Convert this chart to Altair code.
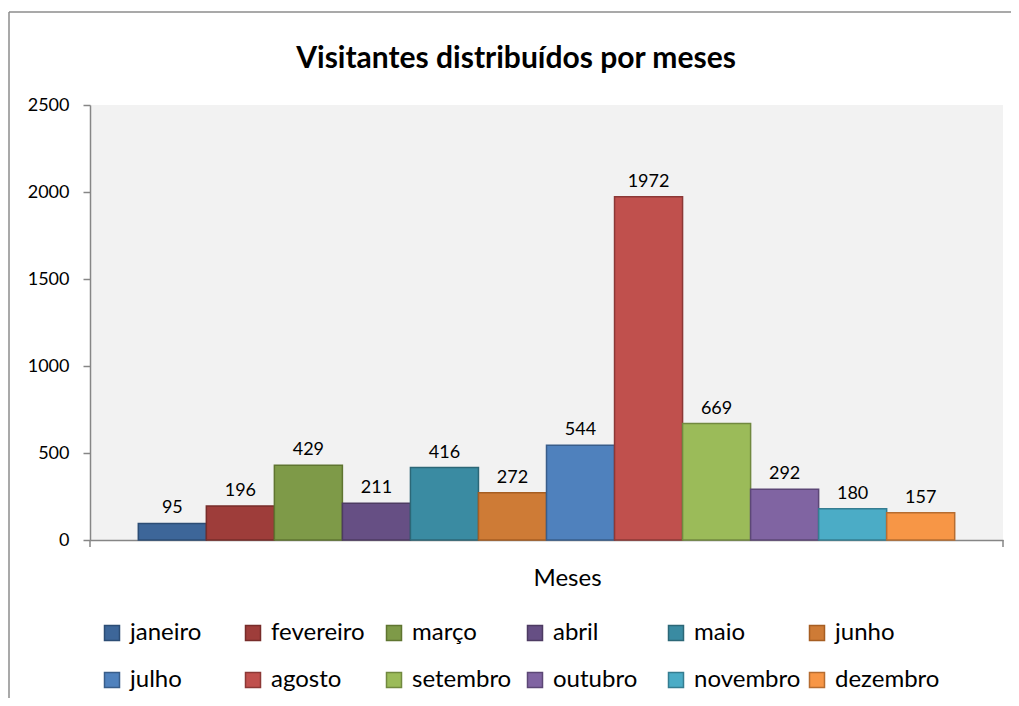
import altair as alt
import pandas as pd

months = ["janeiro", "fevereiro", "março", "abril", "maio", "junho",
          "julho", "agosto", "setembro", "outubro", "novembro", "dezembro"]
visitors = [95, 196, 429, 211, 416, 272, 544, 1972, 669, 292, 180, 157]
y_ticks = [0, 500, 1000, 1500, 2000, 2500]
title_text = "Visitantes distribuídos por meses"

fill_colors = ["#3D6699", "#9E3D3A", "#7E9A48", "#664F84", "#3A8BA2", "#CE7B36",
               "#4F81BD", "#C0504D", "#9BBB59", "#8064A2", "#4BACC6", "#F79646"]
stroke_colors = ["#2C4D75", "#772C2A", "#5F7530", "#4D3B62", "#2C6777", "#A65E22",
                 "#385D8A", "#8C3836", "#71893F", "#5C4776", "#357D91", "#B66D31"]

FONT = "Lato"
W, H = 913, 435

df = pd.DataFrame({"mes": months, "visitantes": visitors})

x_enc = alt.X(
    "mes:N", sort=months,
    scale=alt.Scale(paddingInner=0, paddingOuter=0.71),
    axis=alt.Axis(labels=False, ticks=False, domain=True, domainColor="#868686",
                  domainWidth=1.5, title="Meses", titleFont=FONT, titleFontSize=24,
                  titleFontWeight="normal", titleColor="black",
                  titleX=477, titleY=45, titleBaseline="alphabetic", titleAlign="center"),
)
y_enc = alt.Y(
    "visitantes:Q",
    scale=alt.Scale(domain=[0, 2500], nice=False),
    axis=alt.Axis(values=y_ticks, format="d", title=None, grid=False, domainColor="#868686",
                  domainWidth=1.5, tickColor="#868686", tickSize=7, tickWidth=1.5,
                  labelFont=FONT, labelFontSize=18, labelColor="black", labelPadding=14),
)

legend = alt.Legend(title=None, orient="none", legendX=10, legendY=516, columns=6,
                    direction="horizontal",
                    gridAlign="all", columnPadding=4, rowPadding=23, padding=0,
                    symbolType="square", symbolSize=225, symbolStrokeWidth=1.5,
                    labelFont=FONT, labelFontSize=24, labelColor="black", labelOffset=6,
                    labelLimit=0, symbolOpacity=1)

base = alt.Chart(df)

bars = base.mark_bar(strokeWidth=1.5, opacity=1).encode(
    x=x_enc,
    y=y_enc,
    color=alt.Color("mes:N", sort=months,
                    scale=alt.Scale(domain=months, range=fill_colors), legend=legend),
    stroke=alt.Stroke("mes:N", sort=months,
                      scale=alt.Scale(domain=months, range=stroke_colors), legend=legend),
)

labels = base.mark_text(baseline="bottom", dy=-6, font=FONT, fontSize=18, color="black").encode(
    x=alt.X("mes:N", sort=months),
    y=alt.Y("visitantes:Q"),
    text=alt.Text("visitantes:Q"),
)

one = alt.Chart(pd.DataFrame({"t": [title_text]}))
title_mark = one.mark_text(font=FONT, fontSize=30, fontWeight="bold", color="black",
                           align="center", baseline="alphabetic").encode(
    x=alt.value(426), y=alt.value(-37), text=alt.Text("t:N"))
frame_left = one.mark_rule(color="#8C8C8C", strokeWidth=1.5).encode(
    x=alt.value(-81), y=alt.value(-93), y2=alt.value(600))
frame_top = one.mark_rule(color="#8C8C8C", strokeWidth=1.5).encode(
    x=alt.value(-81), x2=alt.value(W + 10), y=alt.value(-93))
end_tick_l = one.mark_rule(color="#868686", strokeWidth=1.5).encode(
    x=alt.value(0), y=alt.value(H), y2=alt.value(H + 7))
end_tick_r = one.mark_rule(color="#868686", strokeWidth=1.5).encode(
    x=alt.value(W), y=alt.value(H), y2=alt.value(H + 7))

chart = alt.layer(bars, labels, title_mark, frame_left, frame_top, end_tick_l, end_tick_r).properties(
    width=W, height=H,
    autosize=alt.AutoSizeParams(type="none"),
    padding={"left": 82, "top": 97, "right": 8, "bottom": 158},
).configure_view(fill="#F2F2F2", stroke=None)

chart.save("out.html", embed_options={"renderer": "svg", "actions": False})
